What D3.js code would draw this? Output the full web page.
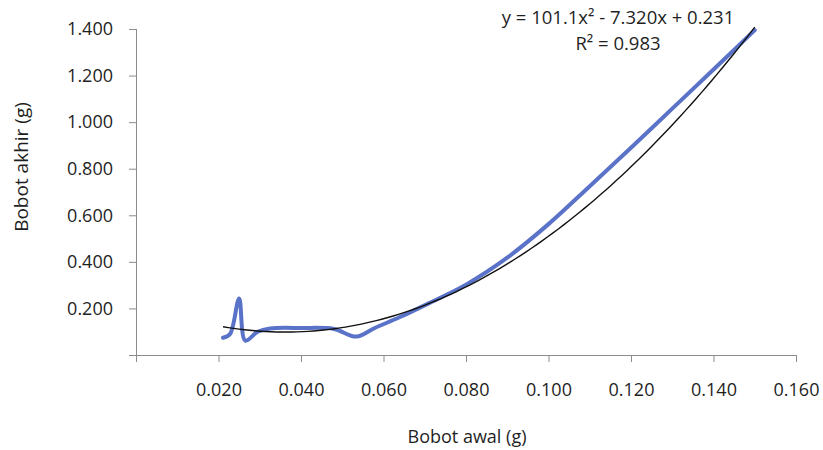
<!DOCTYPE html>
<html>
<head>
<meta charset="utf-8">
<script src="https://cdn.jsdelivr.net/npm/d3@7/dist/d3.min.js"></script>
<style>
  body { margin: 0; background: #fff; }
  svg text { font-family: "Open Sans", "Noto Sans", sans-serif; fill: #1f1f1f; }
</style>
</head>
<body>
<svg id="chart" width="823" height="450"></svg>
<script>
// Bobot awal (g) vs Bobot akhir (g)
const bobotAwal = [0.0211, 0.0228, 0.0250, 0.0265, 0.0295, 0.0325, 0.0400, 0.0480, 0.0534,
  0.0580, 0.0640, 0.0712, 0.0800, 0.0900, 0.1000, 0.1100, 0.1200, 0.1300, 0.1400, 0.1500];
const bobotAkhir = [0.074, 0.090, 0.243, 0.062, 0.100, 0.114, 0.116, 0.112, 0.079,
  0.117, 0.163, 0.224, 0.302, 0.418, 0.562, 0.725, 0.890, 1.058, 1.226, 1.395];

// polynomial trendline coefficients (order 2) as printed on the chart
const trendCoef = [101.1, -7.320, 0.231];
const trendLabel = "y = 101.1x² - 7.320x + 0.231";
const r2Label = "R² = 0.983";

const xTicks = [0.02, 0.04, 0.06, 0.08, 0.10, 0.12, 0.14, 0.16];
const yTicks = [0.2, 0.4, 0.6, 0.8, 1.0, 1.2, 1.4];

const svg = d3.select("#chart");
const margin = { left: 136, right: 27, top: 29, bottom: 95 };
const width = 823, height = 450;

const x = d3.scaleLinear().domain([0, 0.16]).range([margin.left, width - margin.right]);
const y = d3.scaleLinear().domain([0, 1.4]).range([height - margin.bottom, margin.top]);

const axisColor = "#8c8c8c";

// x axis
const xAxis = svg.append("g")
  .attr("transform", `translate(0,${y(0)})`)
  .call(d3.axisBottom(x).tickValues([0].concat(xTicks)).tickSize(7).tickPadding(21)
    .tickFormat(d => d === 0 ? "" : d3.format(".3f")(d)));
xAxis.select(".domain").attr("stroke", axisColor).attr("d", `M${x(0) - 7},0.5H${x(0.16)}`);
xAxis.selectAll(".tick line").attr("stroke", axisColor);
xAxis.selectAll(".tick text").style("font-size", "18px").attr("fill", "#1f1f1f");

// y axis
const yAxis = svg.append("g")
  .attr("transform", `translate(${x(0)},0)`)
  .call(d3.axisLeft(y).tickValues(yTicks).tickSize(7).tickPadding(16)
    .tickFormat(d3.format(".3f")));
yAxis.select(".domain").attr("stroke", axisColor).attr("d", `M0.5,${y(0) + 7}V${y(1.4)}`);
yAxis.selectAll(".tick line").attr("stroke", axisColor);
yAxis.selectAll(".tick text").style("font-size", "18px").attr("fill", "#1f1f1f");

// data line, smoothed like the spreadsheet chart
const points = bobotAwal.map((d, i) => [d, bobotAkhir[i]]);
svg.append("path")
  .datum(points)
  .attr("fill", "none")
  .attr("stroke", "#5a72c8")
  .attr("stroke-width", 4)
  .attr("stroke-linecap", "round")
  .attr("d", d3.line().x(d => x(d[0])).y(d => y(d[1])).curve(d3.curveCatmullRom.alpha(0.5)));

// trendline
const xMin = d3.min(bobotAwal), xMax = d3.max(bobotAwal);
const trendPts = d3.range(0, 101).map(i => {
  const xv = xMin + (xMax - xMin) * i / 100;
  return [xv, trendCoef[0] * xv * xv + trendCoef[1] * xv + trendCoef[2]];
});
svg.append("path")
  .datum(trendPts)
  .attr("fill", "none")
  .attr("stroke", "#111")
  .attr("stroke-width", 1.4)
  .attr("d", d3.line().x(d => x(d[0])).y(d => y(d[1])));

// equation label
svg.append("text")
  .attr("x", 618).attr("y", 24)
  .attr("text-anchor", "middle")
  .style("font-size", "18.5px")
  .text(trendLabel);
svg.append("text")
  .attr("x", 618).attr("y", 50)
  .attr("text-anchor", "middle")
  .style("font-size", "18.5px")
  .text(r2Label);

// axis titles
svg.append("text")
  .attr("x", x(0.08) + 1).attr("y", 443)
  .attr("text-anchor", "middle")
  .style("font-size", "18px")
  .text("Bobot awal (g)");
svg.append("text")
  .attr("transform", `translate(28,167) rotate(-90)`)
  .attr("text-anchor", "middle")
  .style("font-size", "19px")
  .text("Bobot akhir (g)");
</script>
</body>
</html>
